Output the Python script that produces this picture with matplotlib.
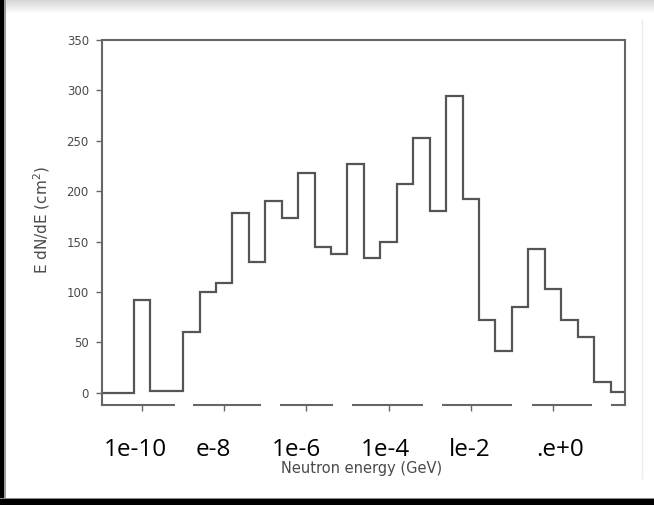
import numpy as np
import matplotlib
matplotlib.use("Agg")
import matplotlib.pyplot as plt
from matplotlib.patches import Rectangle
from matplotlib.lines import Line2D
from matplotlib.ticker import NullLocator
from matplotlib.transforms import blended_transform_factory, ScaledTranslation

# Histogram bins: log10 of the bin edges in GeV, and E dN/dE per bin
log_edges = [-11.0, -10.6, -10.2, -9.8, -9.4, -9.0, -8.6, -8.2, -7.8, -7.4,
             -7.0, -6.6, -6.2, -5.8, -5.4, -5.0, -4.6, -4.2, -3.8, -3.4,
             -3.0, -2.6, -2.2, -1.8, -1.4, -1.0, -0.6, -0.2, 0.2, 0.6,
             1.0, 1.4, 1.8]
flux = [0, 0, 92, 2, 2, 60, 100, 109, 178, 130,
        190, 173, 218, 145, 138, 227, 134, 150, 207, 253,
        180, 294, 192, 72, 42, 85, 143, 103, 72, 55,
        11, 1]

tick_energies = [1e-10, 1e-8, 1e-6, 1e-4, 1e-2, 1e0]
tick_labels = ["1e-10", "e-8", "1e-6", "1e-4", "le-2", ".e+0"]
label_shift_px = [-6.5, -11, -9.5, -3, -1.5, 7]
y_ticks = [0, 50, 100, 150, 200, 250, 300, 350]

W, H = 654, 505
fig = plt.figure(figsize=(W / 100, H / 100), dpi=100)
fig.patch.set_facecolor("white")

ax = fig.add_axes([102 / W, (H - 405) / H, 523 / W, 365 / H])
ax.set_xscale("log")
ax.stairs(flux, 10 ** np.array(log_edges), baseline=None,
          color="#555555", lw=1.6)
ax.set_xlim(10 ** -10.973, 10 ** 1.752)
ax.set_ylim(-12, 350)

for s in ax.spines.values():
    s.set_color("#666666")
    s.set_linewidth(1.5)

ax.set_yticks(y_ticks)
ax.set_yticklabels([str(v) for v in y_ticks])
ax.tick_params(axis="y", direction="out", length=4.5, width=1.0,
               color="#666666", labelsize=8.5, labelcolor="#4a4a4a", pad=5)
ax.set_xticks(tick_energies)
ax.set_xticklabels([""] * len(tick_energies))
ax.xaxis.set_minor_locator(NullLocator())
ax.tick_params(axis="x", direction="out", length=4, width=1.0,
               color="#666666")

# large tick captions placed under the axis
trans = blended_transform_factory(ax.transData, fig.transFigure)
for e, lab, dx in zip(tick_energies, tick_labels, label_shift_px):
    t = trans + ScaledTranslation(dx / 100, 0, fig.dpi_scale_trans)
    fig.text(e, (H - 456) / H, lab, transform=t, ha="center",
             va="baseline", fontsize=17.5, family="Open Sans",
             color="black", zorder=6)

# white boxes interrupting the bottom axis line
for x0, x1 in [(175, 193), (261, 280), (333, 352), (423, 442),
               (512, 532), (592, 611)]:
    fig.add_artist(Rectangle((x0 / W, (H - 409) / H), (x1 - x0) / W,
                             6 / H, transform=fig.transFigure,
                             facecolor="white", edgecolor="none", zorder=5))

fig.text(42 / W, (H - 220) / H, "E dN/dE (cm$^2$)", rotation=90,
         ha="center", va="center", fontsize=11, color="#4a4a4a")
fig.text(362 / W, (H - 469) / H, "Neutron energy (GeV)", ha="center",
         va="center", fontsize=10.5, color="#4a4a4a")

# slide frame: shadow along the top, dark borders at left and bottom
gax = fig.add_axes([0, 1 - 14 / H, 1, 14 / H], zorder=-1)
grad = np.linspace(0.84, 1.0, 50).reshape(-1, 1)
gax.imshow(np.repeat(grad, 2, axis=1), cmap="gray", vmin=0, vmax=1,
           aspect="auto", extent=[0, 1, 1, 0])
gax.set_axis_off()
fig.add_artist(Rectangle((0, 0), 3.5 / W, 1, transform=fig.transFigure,
                         facecolor="black", edgecolor="none", zorder=7))
fig.add_artist(Rectangle((3.5 / W, 0), 2 / W, 1, transform=fig.transFigure,
                         facecolor="#9a9a9a", edgecolor="none", zorder=7))
fig.add_artist(Rectangle((0, 0), 1, 6 / H, transform=fig.transFigure,
                         facecolor="black", edgecolor="none", zorder=7))
fig.add_artist(Rectangle((0, 6 / H), 1, 1.5 / H, transform=fig.transFigure,
                         facecolor="#8a8a8a", edgecolor="none", zorder=7))
fig.add_artist(Line2D([642 / W, 642 / W], [(H - 478) / H, (H - 20) / H],
                      transform=fig.transFigure, color="#ececec", lw=1))

fig.savefig("out.png", dpi=100, facecolor="white")
